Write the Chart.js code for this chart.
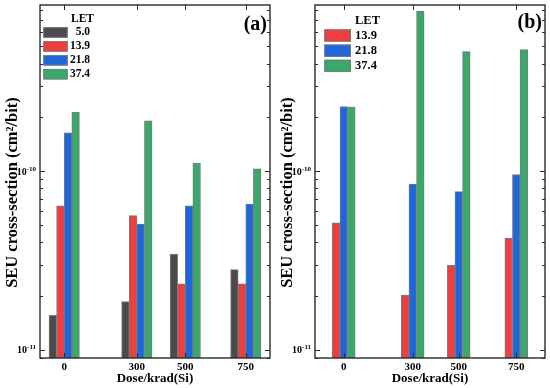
<!DOCTYPE html>
<html>
<head>
<meta charset="utf-8">
<script src="https://cdn.jsdelivr.net/npm/chart.js@4.4.1/dist/chart.umd.min.js"></script>
<style>
html, body { margin: 0; padding: 0; background: #fff; }
#wrap { position: relative; width: 550px; height: 388px; }
#wrap canvas { position: absolute; top: 0; }
</style>
</head>
<body>
<div id="wrap">
  <canvas id="chartA" width="275" height="388" style="left:0"></canvas>
  <canvas id="chartB" width="275" height="388" style="left:275px"></canvas>
</div>
<script>
// dose points (krad(Si)) on a linear x axis
const doses = [0, 300, 500, 750];

// panel (a): SEU cross-section (cm^2/bit) per LET
const letLabelsA = ['5.0', '13.9', '21.8', '37.4'];
const let50A  = [1.56e-11, 1.86e-11, 3.43e-11, 2.81e-11];
const let139A = [6.4e-11, 5.63e-11, 2.34e-11, 2.34e-11];
const let218A = [1.64e-10, 5.05e-11, 6.4e-11, 6.53e-11];
const let374A = [2.13e-10, 1.91e-10, 1.11e-10, 1.03e-10];

// panel (b)
const letLabelsB = ['13.9', '21.8', '37.4'];
const let139B = [5.14e-11, 2.02e-11, 2.97e-11, 4.22e-11];
const let218B = [2.30e-10, 8.46e-11, 7.67e-11, 9.55e-11];
const let374B = [2.28e-10, 7.84e-10, 4.66e-10, 4.78e-10];

// labelled decades on the log axis
const yDecades = [1e-11, 1e-10];

const SERIF = '"Liberation Serif", "Times New Roman", serif';
const colors = { '5.0': '#4b4b4b', '13.9': '#ef3e3e', '21.8': '#1f66dc', '37.4': '#39a86b' };

function toPoints(values) {
    return values.map((v, i) => ({ x: doses[i], y: v }));
}

function makeDataset(label, values) {
    return {
        label: label,
        data: toPoints(values),
        backgroundColor: colors[label],
        borderColor: '#7a7a7a',
        borderWidth: 1,
        barThickness: 7.6
    };
}

// frame, inward ticks, y labels with superscripts, legend and panel tag
const decor = {
    id: 'decor',
    afterDraw(chart, args, opts) {
        const { ctx, chartArea: a, scales: { x, y } } = chart;
        ctx.save();

        const line = (x1, y1, x2, y2) => {
            ctx.beginPath(); ctx.moveTo(x1, y1); ctx.lineTo(x2, y2); ctx.stroke();
        };

        ctx.strokeStyle = '#2a2a2a';
        ctx.lineWidth = 1.4;
        ctx.strokeRect(a.left, a.top, a.right - a.left, a.bottom - a.top);

        ctx.lineWidth = 1;
        for (let d = -12; d <= -9; d++) {
            for (let m = 1; m <= 9; m++) {
                const v = m * Math.pow(10, d);
                if (v < y.min || v > y.max) continue;
                const py = Math.round(y.getPixelForValue(v)) + 0.5;
                const len = m === 1 ? 5 : 3;
                line(a.left, py, a.left + len, py);
                line(a.right, py, a.right - len, py);
            }
        }
        doses.forEach(v => {
            const px = Math.round(x.getPixelForValue(v)) + 0.5;
            line(px, a.top, px, a.top + 5);
            line(px, a.bottom, px, a.bottom - 5);
        });

        ctx.fillStyle = '#000';
        yDecades.forEach(v => {
            const py = y.getPixelForValue(v);
            const exp = String(Math.round(Math.log10(v)));
            ctx.textAlign = 'right';
            ctx.textBaseline = 'alphabetic';
            ctx.font = 'bold 7px ' + SERIF;
            const ew = ctx.measureText(exp).width;
            ctx.fillText(exp, a.left - 4, py - 0.5);
            ctx.font = 'bold 10px ' + SERIF;
            ctx.fillText('10', a.left - 4 - ew, py + 3.5);
        });

        ctx.save();
        ctx.translate(opts.yTitleX, opts.yTitleY);
        ctx.rotate(-Math.PI / 2);
        ctx.textAlign = 'center';
        ctx.textBaseline = 'middle';
        ctx.font = 'bold ' + opts.yTitleSize + 'px ' + SERIF;
        ctx.fillText('SEU cross-section (cm\u00B2/bit)', 0, 0);
        ctx.restore();

        const L = opts.legend;
        ctx.font = 'bold ' + L.font + 'px ' + SERIF;
        ctx.textBaseline = 'middle';
        ctx.textAlign = 'left';
        ctx.fillText('LET', L.headerX, L.headerY);
        chart.data.datasets.forEach((ds, i) => {
            const cy = L.rowY0 + i * L.rowDy;
            ctx.fillStyle = ds.backgroundColor;
            ctx.fillRect(L.boxX, cy - L.boxH / 2, L.boxW, L.boxH);
            ctx.strokeStyle = '#7a7a7a';
            ctx.strokeRect(L.boxX + 0.5, cy - L.boxH / 2 + 0.5, L.boxW - 1, L.boxH - 1);
            ctx.fillStyle = '#000';
            ctx.textAlign = L.textAlign;
            ctx.fillText(ds.label, L.textX, cy);
        });

        ctx.font = 'bold 20px ' + SERIF;
        ctx.textAlign = 'right';
        ctx.textBaseline = 'middle';
        ctx.fillText(opts.tag, a.right - 3, opts.tagY);

        ctx.restore();
    }
};

function makeChart(id, datasets, xMin, xMax, decorOpts) {
    return new Chart(document.getElementById(id), {
        type: 'bar',
        data: { datasets: datasets },
        plugins: [decor],
        options: {
            responsive: false,
            animation: false,
            layout: { padding: { top: 5, right: 5, left: 0, bottom: 0 } },
            plugins: {
                legend: { display: false },
                tooltip: { enabled: false },
                decor: decorOpts
            },
            scales: {
                x: {
                    type: 'linear',
                    min: xMin,
                    max: xMax,
                    bounds: 'data',
                    offset: false,
                    grid: { display: false },
                    border: { display: false },
                    afterBuildTicks: s => { s.ticks = doses.map(v => ({ value: v })); },
                    afterFit: s => { s.height = 30; },
                    ticks: {
                        color: '#000',
                        padding: -5,
                        font: { family: SERIF, size: 11, weight: 'bold' }
                    },
                    title: {
                        display: true,
                        text: 'Dose/krad(Si)',
                        color: '#000',
                        padding: { top: 0, bottom: 2 },
                        font: { family: SERIF, size: 13, weight: 'bold' }
                    }
                },
                y: {
                    type: 'logarithmic',
                    min: 9e-12,
                    max: 8.5e-10,
                    bounds: 'data',
                    grid: { display: false },
                    border: { display: false },
                    ticks: { display: false },
                    afterFit: s => { s.width = 40; }
                }
            }
        }
    });
}

makeChart('chartA', [
    makeDataset(letLabelsA[0], let50A),
    makeDataset(letLabelsA[1], let139A),
    makeDataset(letLabelsA[2], let218A),
    makeDataset(letLabelsA[3], let374A)
], -100, 850, {
    tag: '(a)', tagY: 24.5,
    yTitleX: 13, yTitleY: 192.5, yTitleSize: 16.5,
    legend: { font: 11.5, headerX: 71, headerY: 19, boxX: 43.3, boxW: 24.4, boxH: 10.5,
              rowY0: 32.5, rowDy: 13.9, textX: 90, textAlign: 'right' }
});

makeChart('chartB', [
    makeDataset(letLabelsB[0], let139B),
    makeDataset(letLabelsB[1], let218B),
    makeDataset(letLabelsB[2], let374B)
], -125, 875, {
    tag: '(b)', tagY: 23.3,
    yTitleX: 13, yTitleY: 192.5, yTitleSize: 16.5,
    legend: { font: 12.5, headerX: 80, headerY: 20.7, boxX: 49.3, boxW: 26.7, boxH: 12.3,
              rowY0: 35.5, rowDy: 15.2, textX: 80, textAlign: 'left' }
});
</script>
</body>
</html>
